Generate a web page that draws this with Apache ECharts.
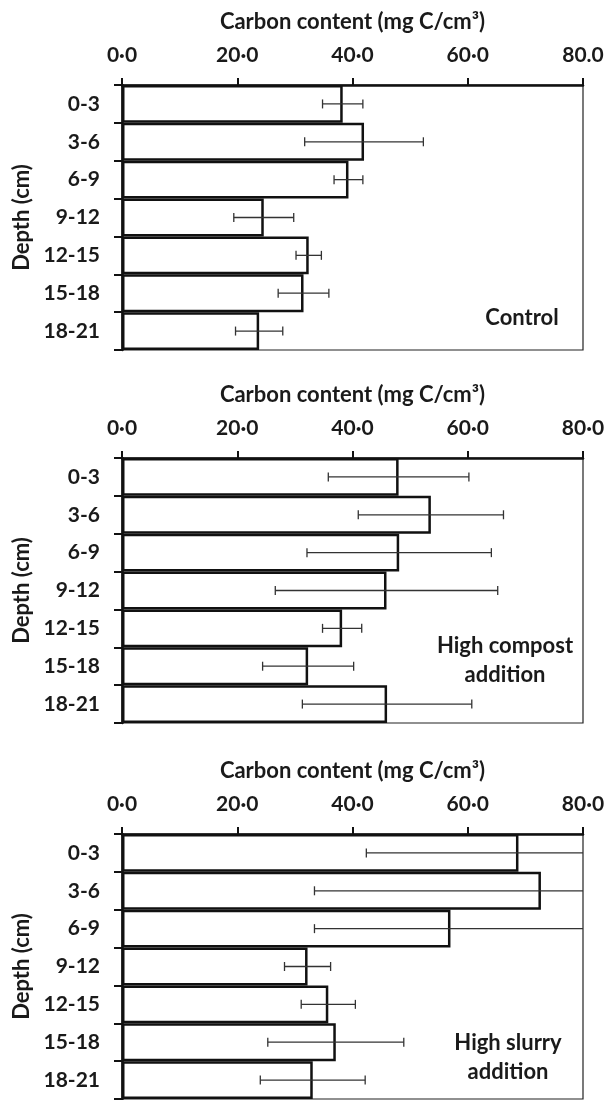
<!DOCTYPE html>
<html>
<head>
<meta charset="utf-8">
<script src="https://cdn.jsdelivr.net/npm/echarts@6/dist/echarts.min.js"></script>
<style>
  html, body { margin: 0; padding: 0; background: #fff; }
  #chart { width: 610px; height: 1100px; }
</style>
</head>
<body>
<div id="chart"></div>
<script>
const depths = ['0-3', '3-6', '6-9', '9-12', '12-15', '15-18', '18-21'];

// mean carbon content and error (mg C/cm3)
const controlMean = [38.3, 42.0, 39.3, 24.6, 32.4, 31.5, 23.8];
const controlErr  = [3.5, 10.3, 2.5, 5.2, 2.2, 4.4, 4.1];
const compostMean = [48.0, 53.6, 48.1, 45.9, 38.2, 32.3, 46.0];
const compostErr  = [12.2, 12.6, 16.0, 19.3, 3.4, 7.9, 14.7];
const slurryMean  = [68.8, 72.7, 57.0, 32.2, 35.8, 37.1, 33.1];
const slurryErr   = [26.4, 39.3, 23.6, 4.0, 4.7, 11.8, 9.1];

const ticksControl = ['0·0', '20·0', '40·0', '60·0', '80.0'];
const ticksOther   = ['0·0', '20·0', '40·0', '60·0', '80·0'];

const axisTitle = 'Carbon content (mg C/cm³)';
const fontFam = 'Lato, "Open Sans", sans-serif';
const textColor = '#1a1a1a';

const gridTops = [85, 458, 834];
const panels = [
    { mean: controlMean, err: controlErr, ticks: ticksControl },
    { mean: compostMean, err: compostErr, ticks: ticksOther },
    { mean: slurryMean, err: slurryErr, ticks: ticksOther }
];

const chart = echarts.init(document.getElementById('chart'));

function renderErr(params, api) {
    const idx = api.value(0);
    const lo = api.coord([api.value(1), idx]);
    const hi = api.coord([api.value(2), idx]);
    const cap = 4.5;
    const st = { stroke: '#333', lineWidth: 1.3 };
    return {
        type: 'group',
        children: [
            { type: 'line', shape: { x1: lo[0], y1: lo[1], x2: hi[0], y2: hi[1] }, style: st },
            { type: 'line', shape: { x1: lo[0], y1: lo[1] - cap, x2: lo[0], y2: lo[1] + cap }, style: st },
            { type: 'line', shape: { x1: hi[0], y1: hi[1] - cap, x2: hi[0], y2: hi[1] + cap }, style: st }
        ]
    };
}

const grid = [], xAxis = [], yAxis = [], series = [];

panels.forEach((p, i) => {
    grid.push({
        left: 122, width: 461, top: gridTops[i], height: 265,
        show: true, borderColor: '#222', borderWidth: 1.2, backgroundColor: 'transparent'
    });
    xAxis.push({
        gridIndex: i,
        type: 'value',
        position: 'top',
        min: 0, max: 80, interval: 20,
        name: axisTitle,
        nameLocation: 'middle',
        nameGap: 52,
        nameTextStyle: { color: textColor, fontSize: 22, fontWeight: 'bold', fontFamily: fontFam },
        axisLine: { show: true, lineStyle: { color: '#111', width: 2.5 } },
        axisTick: { show: true, inside: false, length: 7, lineStyle: { color: '#111', width: 2 } },
        splitLine: { show: false },
        axisLabel: {
            margin: 19,
            color: textColor, fontSize: 21, fontWeight: 'bold', fontFamily: fontFam,
            formatter: v => p.ticks[Math.round(v / 20)]
        }
    });
    yAxis.push({
        gridIndex: i,
        type: 'category',
        data: depths,
        inverse: true,
        name: 'Depth (cm)',
        nameLocation: 'middle',
        nameRotate: 90,
        nameGap: 86,
        nameTextStyle: { color: textColor, fontSize: 22, fontWeight: 'bold', fontFamily: fontFam },
        axisLine: { show: true, lineStyle: { color: '#111', width: 2.5 } },
        axisTick: { show: true, inside: false, length: 8, lineStyle: { color: '#111', width: 2 } },
        axisLabel: {
            margin: 22,
            color: textColor, fontSize: 21, fontWeight: 'bold', fontFamily: fontFam
        }
    });
    series.push({
        type: 'bar',
        xAxisIndex: i, yAxisIndex: i,
        data: p.mean,
        barWidth: '100%',
        itemStyle: { color: '#fff', borderColor: '#111', borderWidth: 2.5 },
        silent: true,
        z: 2
    });
    series.push({
        type: 'custom',
        xAxisIndex: i, yAxisIndex: i,
        renderItem: renderErr,
        clip: true,
        encode: { x: [1, 2], y: 0 },
        data: p.mean.map((m, k) => [k, m - p.err[k], m + p.err[k]]),
        silent: true,
        z: 3
    });
});

const noteStyle = { fontSize: 22, fontWeight: 'bold', fontFamily: fontFam, fill: textColor, textAlign: 'center', textVerticalAlign: 'middle' };

chart.setOption({
    backgroundColor: '#fff',
    animation: false,
    grid: grid,
    xAxis: xAxis,
    yAxis: yAxis,
    series: series,
    graphic: [
        { type: 'text', x: 522, y: 318, style: Object.assign({ text: 'Control' }, noteStyle), z: 10 },
        { type: 'text', x: 505, y: 646, style: Object.assign({ text: 'High compost' }, noteStyle), z: 10 },
        { type: 'text', x: 505, y: 675, style: Object.assign({ text: 'addition' }, noteStyle), z: 10 },
        { type: 'text', x: 508, y: 1043, style: Object.assign({ text: 'High slurry' }, noteStyle), z: 10 },
        { type: 'text', x: 508, y: 1072, style: Object.assign({ text: 'addition' }, noteStyle), z: 10 }
    ]
});
</script>
</body>
</html>
